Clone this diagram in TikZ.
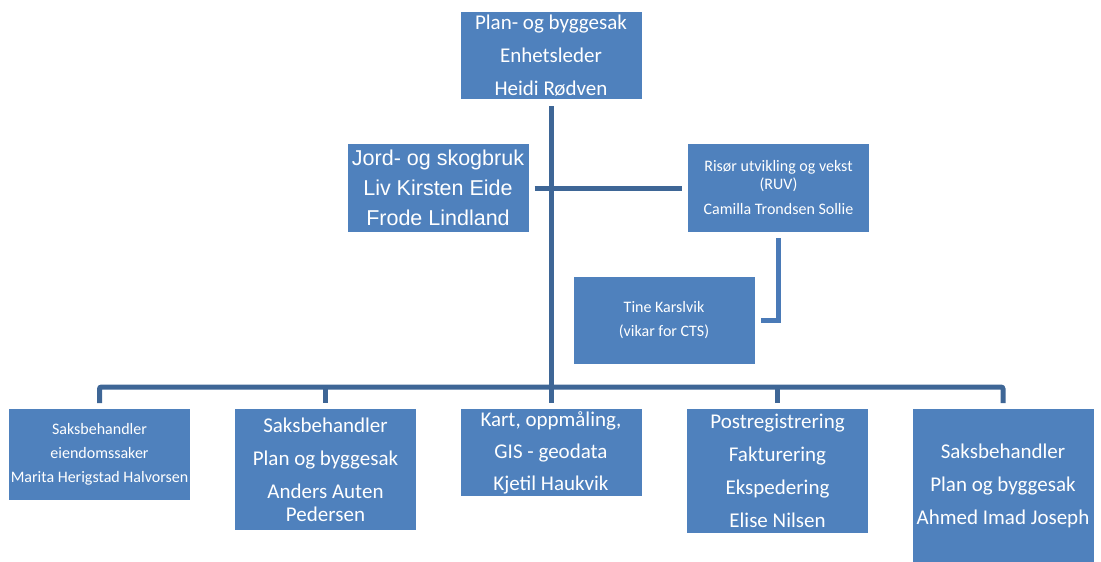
\documentclass[tikz,border=0pt]{standalone}
\usepackage{fontspec}
\setmainfont{Carlito}
\newfontfamily\arialfont{Liberation Sans}
\usetikzlibrary{positioning}
\definecolor{unitblue}{RGB}{79,129,189}
\definecolor{linkblue}{RGB}{62,102,150}
\definecolor{linklight}{RGB}{74,122,183}

\begin{document}
\begin{tikzpicture}[
		x=1pt, y=-1pt,
		unit/.style={fill=unitblue, text=white, inner sep=0pt, minimum width=181pt, align=center},
		bigtext/.style={font=\fontsize{21}{33}\selectfont},
		smalltext/.style={font=\fontsize{16}{24}\selectfont},
		link/.style={draw=linkblue, line width=5pt},
		gap/.style={shorten <=6pt, shorten >=6pt},
	]
		\useasboundingbox (0,0) rectangle (1101,562);

		\node (head) [unit, bigtext, minimum height=87pt] at (551,55.5) {Plan- og byggesak\\Enhetsleder\\Heidi Rødven};
		\node (jord) [unit, minimum height=88pt, font=\arialfont\fontsize{21.5}{30}\selectfont] at (438,188) {Jord- og skogbruk\\Liv Kirsten Eide\\Frode Lindland};
		\node (ruv) [unit, smalltext, minimum height=88pt, font=\fontsize{16}{25}\selectfont] at (778.5,188) {Risør utvikling og vekst\\[-7pt](RUV)\\Camilla Trondsen Sollie};
		\node (tine) [unit, smalltext, minimum height=87pt] at (664,320.5) {Tine Karslvik\\(vikar for CTS)};

		\node (sak1) [unit, smalltext, anchor=north, minimum height=91pt] at (99.5,409) {Saksbehandler\\eiendomssaker\\Marita Herigstad Halvorsen};
		\node (sak2) [unit, bigtext, anchor=north, minimum height=121pt] at (325.5,409) {Saksbehandler\\Plan og byggesak\\Anders Auten\\[-10pt]Pedersen};
		\node (sak3) [unit, anchor=north, minimum height=87pt, font=\fontsize{21}{32}\selectfont] at (551,409) {Kart, oppmåling,\\GIS - geodata\\Kjetil Haukvik};
		\node (sak4) [unit, bigtext, anchor=north, minimum height=124pt] at (777.5,409) {Postregistrering\\Fakturering\\Ekspedering\\Elise Nilsen};
		\node (sak5) [unit, bigtext, anchor=north, minimum height=153pt] at (1003,409) {Saksbehandler\\Plan og byggesak\\Ahmed Imad Joseph};
		\coordinate (bus) at (551,387);

		\draw[link, shorten <=7pt] (head.south) -- (head.south |- bus);
		\draw[link, gap, rounded corners=2pt] (sak1.north) -- (sak1.north |- bus) -- (sak5.north |- bus) -- (sak5.north);
		\foreach \s in {sak2,sak3,sak4}
			\draw[link, shorten >=6pt] (\s.north |- bus) -- (\s.north);

		\draw[link, gap] (jord.east) -- (ruv.west);
		\draw[link, draw=linklight, gap] (ruv.south) -- (ruv.south |- tine.east) -- (tine.east);
	\end{tikzpicture}
\end{document}
